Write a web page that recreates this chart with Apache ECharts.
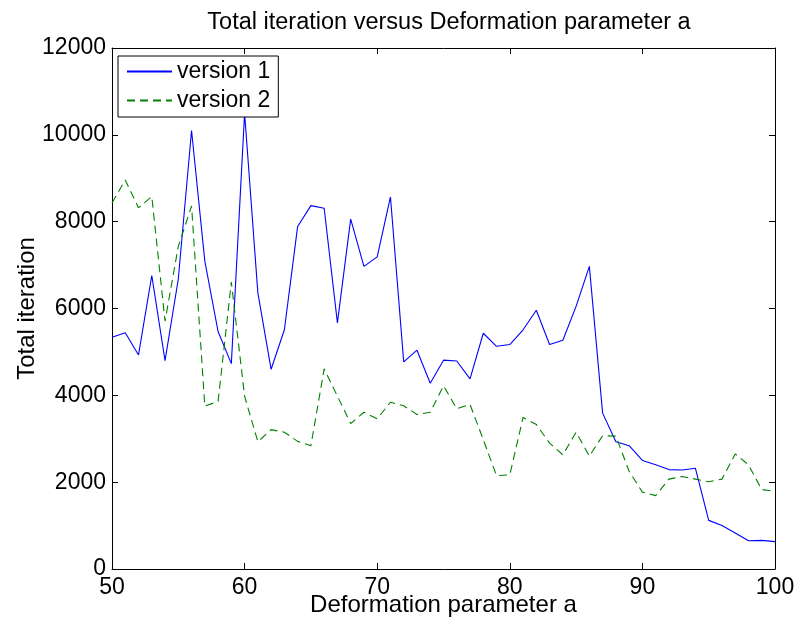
<!DOCTYPE html>
<html>
<head>
<meta charset="utf-8">
<script src="https://cdn.jsdelivr.net/npm/echarts@6/dist/echarts.min.js"></script>
<style>
html,body{margin:0;padding:0;background:#fff;}
#chart{width:798px;height:628px;}
</style>
</head>
<body>
<div id="chart"></div>
<script>
// Deformation parameter a, one sample per integer
const aValues = [];
for (let a = 50; a <= 100; a++) aValues.push(a);

const version1 = [
  5340, 5440, 4930, 6760, 4800, 6680, 10100, 7090, 5470, 4730,
  10500, 6360, 4600, 5510, 7890, 8370, 8310, 5670, 8060, 6970,
  7190, 8570, 4770, 5040, 4280, 4810, 4790, 4380, 5430, 5130,
  5170, 5510, 5960, 5170, 5270, 6050, 6970, 3590, 2930, 2840,
  2500, 2400, 2290, 2280, 2320, 1120, 1000, 830, 650, 660,
  630
];

const version2 = [
  8430, 8960, 8320, 8580, 5710, 7430, 8360, 3750, 3860, 6610,
  3980, 2930, 3210, 3150, 2940, 2840, 4610, 3980, 3350, 3610,
  3460, 3840, 3760, 3560, 3610, 4220, 3690, 3790, 2980, 2150,
  2170, 3490, 3330, 2900, 2630, 3150, 2600, 3070, 3060, 2250,
  1770, 1690, 2070, 2130, 2070, 2010, 2070, 2650, 2400, 1830,
  1790
];

const xTicks = [50, 60, 70, 80, 90, 100];
const yTicks = [0, 2000, 4000, 6000, 8000, 10000, 12000];

const FONT = '"Liberation Sans", Arial, Helvetica, sans-serif';

const pairs = (ys) => ys.map((v, i) => [aValues[i], v]);

const chart = echarts.init(document.getElementById('chart'), null, { renderer: 'canvas' });

const baseAxis = {
  axisLine: { show: true, onZero: false, lineStyle: { color: '#000', width: 1 } },
  axisTick: { show: true, inside: true, length: 6, lineStyle: { color: '#000', width: 1 } },
  splitLine: { show: false }
};

chart.setOption({
  animation: false,
  backgroundColor: '#fff',
  title: {
    text: 'Total iteration versus Deformation parameter a',
    left: 444, top: 6, textAlign: 'center',
    textStyle: { fontFamily: FONT, fontSize: 23.5, fontWeight: 'normal', color: '#000' }
  },
  grid: { left: 112, right: 23, top: 48, bottom: 59, containLabel: false },
  legend: {
    left: 118, top: 56, orient: 'vertical',
    backgroundColor: '#fff',
    borderColor: '#000', borderWidth: 1,
    padding: [4, 8, 5, 8],
    itemWidth: 45, itemHeight: 14, itemGap: 6,
    itemStyle: { opacity: 0 },
    textStyle: { fontFamily: FONT, fontSize: 23, color: '#000' },
    data: ['version 1', 'version 2']
  },
  xAxis: [
    Object.assign({}, baseAxis, {
      type: 'value', min: xTicks[0], max: xTicks[xTicks.length - 1], interval: 10,
      position: 'bottom',
      name: 'Deformation parameter a', nameLocation: 'middle', nameGap: 24,
      nameMoveOverlap: false,
      nameTextStyle: { fontFamily: FONT, fontSize: 24, color: '#000' },
      axisLabel: { fontFamily: FONT, fontSize: 23, color: '#000', margin: 7 }
    }),
    Object.assign({}, baseAxis, {
      type: 'value', min: xTicks[0], max: xTicks[xTicks.length - 1], interval: 10,
      position: 'top', axisLabel: { show: false }
    })
  ],
  yAxis: [
    Object.assign({}, baseAxis, {
      type: 'value', min: yTicks[0], max: yTicks[yTicks.length - 1], interval: 2000,
      position: 'left',
      name: 'Total iteration', nameLocation: 'middle', nameGap: 73, nameRotate: 90,
      nameMoveOverlap: false,
      nameTextStyle: { fontFamily: FONT, fontSize: 24, color: '#000' },
      axisLabel: { fontFamily: FONT, fontSize: 23, color: '#000', margin: 6,
                   formatter: (v) => String(v) }
    }),
    Object.assign({}, baseAxis, {
      type: 'value', min: yTicks[0], max: yTicks[yTicks.length - 1], interval: 2000,
      position: 'right', axisLabel: { show: false }
    })
  ],
  series: [
    {
      name: 'version 1', type: 'line', xAxisIndex: 0, yAxisIndex: 0,
      data: pairs(version1), symbol: 'none', showSymbol: false,
      color: '#0000ff',
      lineStyle: { color: '#0000ff', width: 1.1 }
    },
    {
      name: 'version 2', type: 'line', xAxisIndex: 0, yAxisIndex: 0,
      data: pairs(version2), symbol: 'none', showSymbol: false,
      color: '#008000',
      lineStyle: { color: '#008000', width: 1.1, type: [8, 5] }
    }
  ]
});
</script>
</body>
</html>
